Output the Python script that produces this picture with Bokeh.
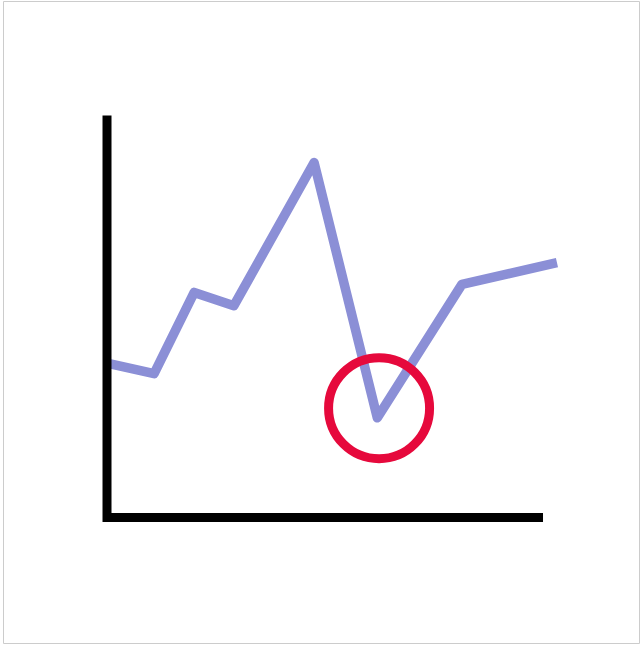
from bokeh.plotting import figure
from bokeh.models import Range1d
from bokeh.embed import file_html
from bokeh.resources import INLINE

# Data (abstract units: axis spans 0..100 on both directions)
series_x = [0.5, 10.8, 20.0, 29.1, 47.5, 62.0, 81.4, 103.2]
series_y = [38.3, 35.8, 56.0, 52.7, 88.3, 24.8, 58.0, 63.4]
axis_x = [0, 0, 100]
axis_y = [100, 0, 0]
highlight_x = [62.4]
highlight_y = [27.2]

p = figure(width=637, height=643, output_backend="svg", toolbar_location=None,
           x_range=Range1d(-23.74, 122.36), y_range=Range1d(-31.59, 128.36),
           min_border=0, background_fill_color="white", border_fill_color="white")
p.axis.visible = False
p.grid.visible = False
p.outline_line_color = "#cccccc"
p.outline_line_width = 1
p.styles = {"margin-left": "3px", "margin-top": "1px"}

p.line(series_x, series_y, line_color="#8b8fd6", line_width=9.5,
       line_join="round", line_cap="butt")
p.line(axis_x, axis_y, line_color="black", line_width=9,
       line_join="miter", line_cap="butt")
p.scatter(highlight_x, highlight_y, marker="circle", size=101,
          fill_color=None, line_color="#e6093c", line_width=9)

open("out.html", "w").write(file_html(p, INLINE))
